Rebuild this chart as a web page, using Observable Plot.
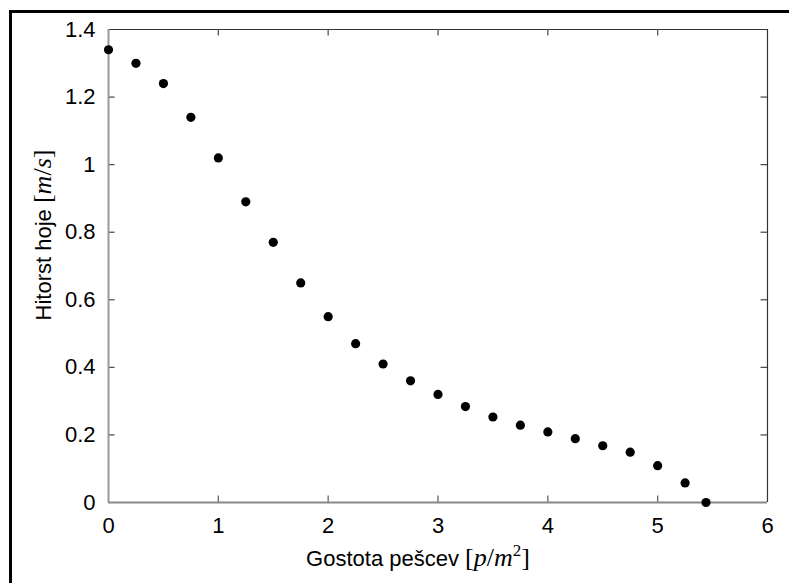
<!DOCTYPE html>
<html><head><meta charset="utf-8">
<script src="https://cdn.jsdelivr.net/npm/d3@7"></script>
<script src="https://cdn.jsdelivr.net/npm/@observablehq/plot@0.6"></script>
<style>
html,body{margin:0;padding:0;background:#fff;}
#wrap{position:relative;width:789px;height:583px;overflow:hidden;}
#border{position:absolute;left:9px;top:10px;width:820px;height:620px;border-left:3px solid #000;border-top:3px solid #000;pointer-events:none;box-sizing:border-box;}
</style></head><body>
<div id="wrap"><div id="chart"></div><div id="border"></div></div>
<script>
// Data
const density = [0, 0.25, 0.5, 0.75, 1, 1.25, 1.5, 1.75, 2, 2.25, 2.5, 2.75, 3, 3.25, 3.5, 3.75, 4, 4.25, 4.5, 4.75, 5, 5.25, 5.44];
const speed   = [1.34, 1.30, 1.24, 1.14, 1.02, 0.89, 0.77, 0.65, 0.55, 0.47, 0.41, 0.36, 0.32, 0.284, 0.253, 0.229, 0.209, 0.189, 0.168, 0.149, 0.109, 0.058, 0];
const xTicks = [0, 1, 2, 3, 4, 5, 6];
const xTickLabels = ["0", "1", "2", "3", "4", "5", "6"];
const yTicks = [0, 0.2, 0.4, 0.6, 0.8, 1, 1.2, 1.4];
const yTickLabels = ["0", "0.2", "0.4", "0.6", "0.8", "1", "1.2", "1.4"];
const xLabelText = "Gostota pešcev ";
const yLabelText = "Hitorst hoje ";

const data = density.map((d, i) => ({density: d, speed: speed[i]}));

const W = 789, H = 583, mL = 108, mR = 22, mT = 29, mB = 81;
const iw = W - mL - mR, ih = H - mT - mB;
const tickLen = 6.5;
const sans = "'Liberation Sans', Arial, sans-serif";
const serif = "'Liberation Serif', 'Times New Roman', serif";

const chart = Plot.plot({
  width: W, height: H,
  marginLeft: mL, marginRight: mR, marginTop: mT, marginBottom: mB,
  style: {fontFamily: sans, fontSize: "22px", color: "#000", background: "#fff", overflow: "visible"},
  x: {domain: [0, 6]},
  y: {domain: [0, 1.4]},
  marks: [
    Plot.ruleY([1.4], {stroke: "#333", strokeWidth: 1.2}),
    Plot.ruleX([6], {stroke: "#333", strokeWidth: 1.2}),
    Plot.tickX(xTicks.slice(1, -1), {x: d => d, insetTop: ih - tickLen, stroke: "#666", strokeWidth: 1.3}),
    Plot.tickX(xTicks.slice(1, -1), {x: d => d, insetBottom: ih - tickLen, stroke: "#555", strokeWidth: 1.3}),
    Plot.tickY(yTicks.slice(1, -1), {y: d => d, insetRight: iw - tickLen, stroke: "#444", strokeWidth: 1.2}),
    Plot.tickY(yTicks.slice(1, -1), {y: d => d, insetLeft: iw - tickLen, stroke: "#444", strokeWidth: 1.2}),
    Plot.ruleX([0], {stroke: "#999", strokeWidth: 2}),
    Plot.ruleY([0], {stroke: "#888", strokeWidth: 2}),
    Plot.axisX(xTicks, {anchor: "bottom", tickSize: 0, tickPadding: 15, label: null, fontSize: 22,
      tickFormat: d => xTickLabels[xTicks.indexOf(d)]}),
    Plot.axisY(yTicks, {anchor: "left", tickSize: 0, tickPadding: 13, label: null, fontSize: 22,
      tickFormat: d => yTickLabels[yTicks.indexOf(d)]}),
    Plot.dot(data, {x: "density", y: "speed", r: 4.6, fill: "#000", stroke: "none"})
  ]
});
document.getElementById("chart").appendChild(chart);

// Axis titles with math-style parts
const svg = d3.select(chart);
const mathSize = "26px";
const yl = svg.append("text")
  .attr("transform", "translate(51,235) rotate(-90)")
  .attr("text-anchor", "middle")
  .attr("fill", "#000")
  .style("font-size", "22px");
yl.append("tspan").style("font-family", sans).text(yLabelText);
yl.append("tspan").style("font-family", serif).style("font-size", mathSize).text("[");
yl.append("tspan").style("font-family", serif).style("font-style", "italic").style("font-size", mathSize).text("m");
yl.append("tspan").style("font-family", serif).style("font-size", mathSize).text("/");
yl.append("tspan").style("font-family", serif).style("font-style", "italic").style("font-size", mathSize).text("s");
yl.append("tspan").style("font-family", serif).style("font-size", mathSize).text("]");

const xl = svg.append("text")
  .attr("x", 418).attr("y", 566)
  .attr("text-anchor", "middle")
  .attr("fill", "#000")
  .style("font-size", "22px");
xl.append("tspan").style("font-family", sans).text(xLabelText);
xl.append("tspan").style("font-family", serif).style("font-size", mathSize).text("[");
xl.append("tspan").style("font-family", serif).style("font-style", "italic").style("font-size", mathSize).text("p");
xl.append("tspan").style("font-family", serif).style("font-size", mathSize).text("/");
xl.append("tspan").style("font-family", serif).style("font-style", "italic").style("font-size", mathSize).text("m");
xl.append("tspan").style("font-family", serif).style("font-size", "17px").attr("dy", "-10").text("2");
xl.append("tspan").style("font-family", serif).style("font-size", mathSize).attr("dy", "10").text("]");
</script>
</body></html>
